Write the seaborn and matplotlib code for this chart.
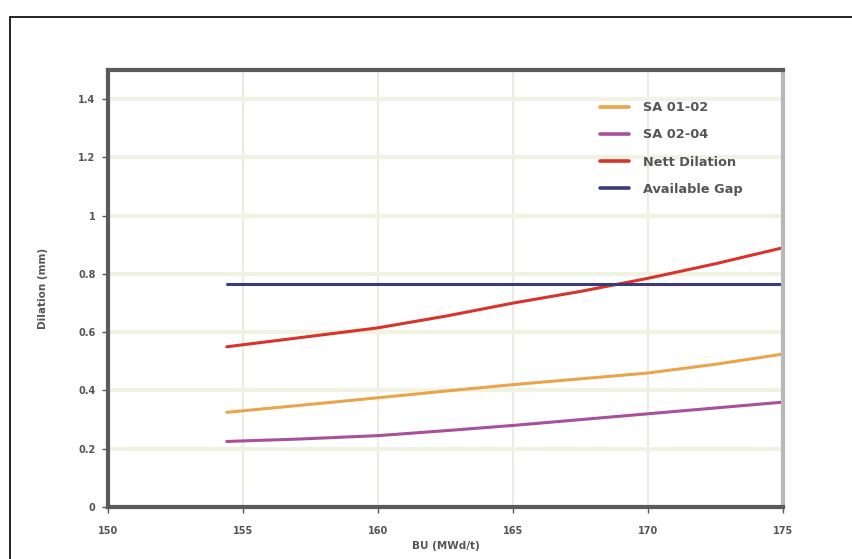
import matplotlib
matplotlib.use("Agg")
import matplotlib.pyplot as plt
from matplotlib.patches import Rectangle
import seaborn as sns
import pandas as pd

bu = [154.4, 157, 160, 162.5, 165, 167.5, 170, 172.5, 175]
sa_01_02 = [0.325, 0.348, 0.375, 0.398, 0.42, 0.44, 0.46, 0.49, 0.525]
sa_02_04 = [0.225, 0.233, 0.245, 0.262, 0.28, 0.30, 0.32, 0.34, 0.36]
nett_dilation = [0.55, 0.58, 0.615, 0.655, 0.70, 0.74, 0.785, 0.835, 0.89]
available_gap = [0.765] * len(bu)

series_names = ["SA 01-02", "SA 02-04", "Nett Dilation", "Available Gap"]
colors = ["#eaa44a", "#a8509e", "#d8342c", "#3c3a78"]

df = pd.DataFrame({"BU": bu * 4,
                   "val": sa_01_02 + sa_02_04 + nett_dilation + available_gap,
                   "series": sum([[n] * len(bu) for n in series_names], [])})

sns.set_style("white")
plt.rcParams["font.family"] = ["DejaVu Sans"]
fig = plt.figure(figsize=(8.53, 5.59), dpi=100)
ax = fig.add_axes([0.1266, 0.093, 0.7914, 0.7818])

sns.lineplot(data=df, x="BU", y="val", hue="series", hue_order=series_names,
             palette=colors, linewidth=2.2, ax=ax)

ax.set_xlim(150, 175)
ax.set_ylim(0, 1.5)
ax.set_xticks([150, 155, 160, 165, 170, 175])
ax.set_yticks([0, 0.2, 0.4, 0.6, 0.8, 1, 1.2, 1.4])
ax.set_yticklabels(["0", "0.2", "0.4", "0.6", "0.8", "1", "1.2", "1.4"])
ax.grid(True, axis="y", color="#f0f2e2", linewidth=3)
ax.grid(True, axis="x", color="#e8eadf", linewidth=1.3)
ax.set_axisbelow(True)
ax.tick_params(labelsize=7, colors="#555555", length=4, width=1, direction="out",
               left=True, bottom=True)
ax.tick_params(axis="x", pad=10)
ax.tick_params(axis="y", pad=5)
for lab in ax.get_xticklabels() + ax.get_yticklabels():
    lab.set_fontweight("bold")
for s in ["left", "bottom", "top"]:
    ax.spines[s].set_color("#5a5a5a")
    ax.spines[s].set_linewidth(3)
ax.spines["right"].set_color("#b8b8b8")
ax.spines["right"].set_linewidth(3)

ax.set_xlabel("BU (MWd/t)", fontsize=7.5, color="#555555", labelpad=3, fontweight="bold")
ax.set_ylabel("Dilation (mm)", fontsize=7.5, color="#555555", labelpad=22, fontweight="bold")

leg = ax.legend(loc="upper left", bbox_to_anchor=(0.712, 0.955), frameon=False,
                handlelength=2.2, labelspacing=1.1, handletextpad=1.1,
                prop={"weight": "bold", "size": 9.3})
for t in leg.get_texts():
    t.set_color("#555555")
for line in leg.get_lines():
    line.set_linewidth(2.6)

fig.patches.append(Rectangle((10 / 853, -0.01), 1.0, 1 - 17 / 559 + 0.01,
                             transform=fig.transFigure, fill=False,
                             edgecolor="black", linewidth=1.2))

fig.savefig("out.png", dpi=100)
